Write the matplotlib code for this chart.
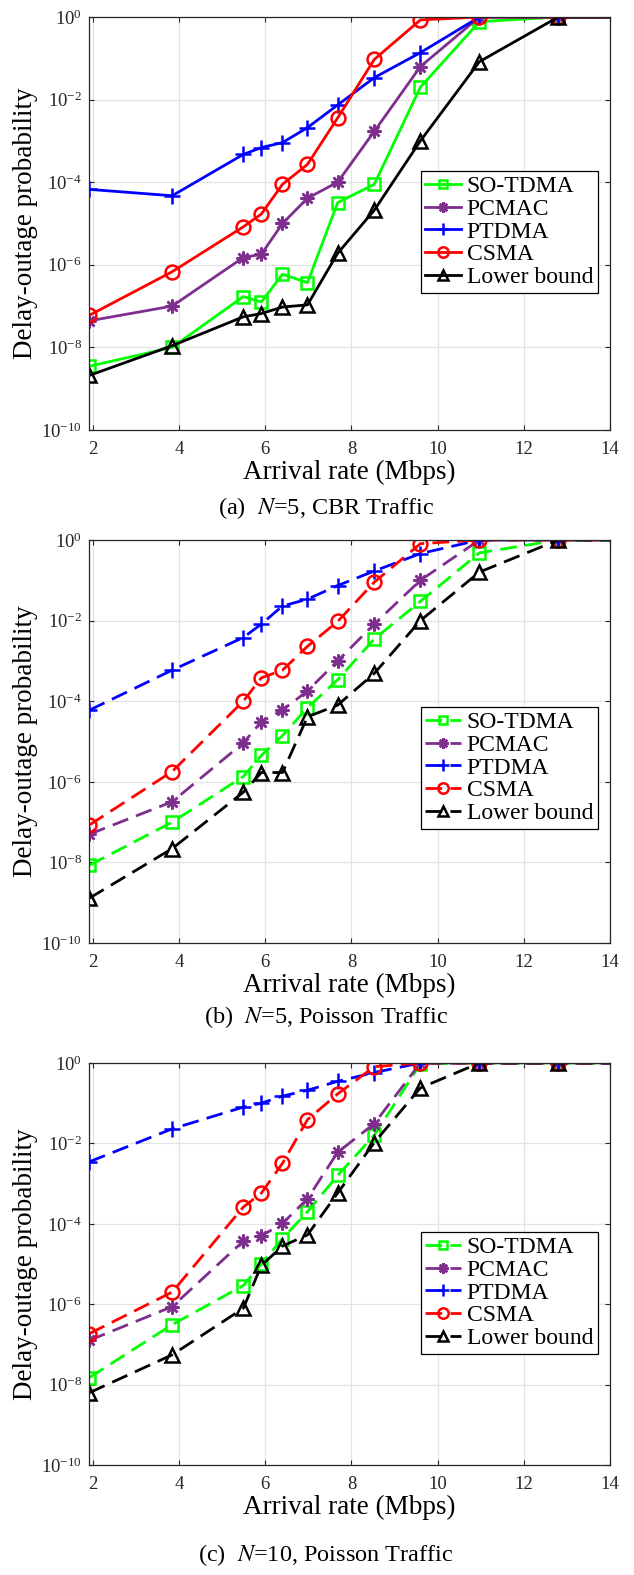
import matplotlib
matplotlib.use("Agg")
import matplotlib.pyplot as plt
import numpy as np

plt.rcParams['font.family'] = ['Liberation Serif', 'DejaVu Serif']
plt.rcParams['mathtext.fontset'] = 'stix'

# Arrival rates (Mbps); last point lies beyond the axis limit (flat at 1)
rates = [1.92, 3.84, 5.49, 5.91, 6.4, 6.98, 7.68, 8.53, 9.6, 10.97, 12.8, 15.36]

series_names = ["SO-TDMA", "PCMAC", "PTDMA", "CSMA", "Lower bound"]

# (a) N=5, CBR traffic
a_sotdma = [3.5e-9, 1.0e-8, 1.7e-7, 1.26e-7, 5.9e-7, 3.7e-7, 3.2e-5, 8.9e-5, 0.02, 0.77, 1.0, 1.0]
a_pcmac  = [4.4e-8, 1.0e-7, 1.5e-6, 1.8e-6, 1.0e-5, 4.1e-5, 1.0e-4, 1.7e-3, 0.063, 1.0, 1.0, 1.0]
a_ptdma  = [6.7e-5, 4.7e-5, 4.7e-4, 6.9e-4, 9.1e-4, 2.1e-3, 7.4e-3, 0.034, 0.137, 1.0, 1.0, 1.0]
a_csma   = [6.0e-8, 6.8e-7, 8.3e-6, 1.7e-5, 8.9e-5, 2.7e-4, 3.6e-3, 0.094, 0.85, 1.0, 1.0, 1.0]
a_lower  = [2.1e-9, 1.1e-8, 5.5e-8, 6.6e-8, 9.5e-8, 1.07e-7, 1.9e-6, 2.1e-5, 1.0e-3, 0.083, 1.0, 1.0]

# (b) N=5, Poisson traffic
b_sotdma = [8.5e-9, 1.0e-7, 1.35e-6, 4.5e-6, 1.4e-5, 6.9e-5, 3.4e-4, 3.5e-3, 0.03, 0.48, 1.0, 1.0]
b_pcmac  = [5.0e-8, 3.2e-7, 9.2e-6, 3.1e-5, 6.0e-5, 1.8e-4, 1.0e-3, 8.2e-3, 0.1, 1.0, 1.0, 1.0]
b_ptdma  = [6.0e-5, 5.9e-4, 3.8e-3, 8.2e-3, 0.023, 0.034, 0.074, 0.17, 0.46, 1.0, 1.0, 1.0]
b_csma   = [8.5e-8, 1.8e-6, 1.0e-4, 3.8e-4, 5.9e-4, 2.3e-3, 9.5e-3, 0.09, 0.81, 1.0, 1.0, 1.0]
b_lower  = [1.3e-9, 2.2e-8, 5.5e-7, 1.7e-6, 1.7e-6, 4.1e-5, 8.0e-5, 4.9e-4, 0.01, 0.16, 1.0, 1.0]

# (c) N=10, Poisson traffic
c_sotdma = [1.5e-8, 3.1e-7, 2.9e-6, 1.0e-5, 4.3e-5, 2.0e-4, 1.6e-3, 0.016, 0.95, 1.0, 1.0, 1.0]
c_pcmac  = [1.26e-7, 8.7e-7, 3.7e-5, 5.0e-5, 1.02e-4, 4.2e-4, 6.0e-3, 0.031, 1.0, 1.0, 1.0, 1.0]
c_ptdma  = [3.5e-3, 0.023, 0.08, 0.10, 0.15, 0.21, 0.35, 0.58, 1.0, 1.0, 1.0, 1.0]
c_csma   = [1.86e-7, 2.0e-6, 2.6e-4, 5.8e-4, 3.2e-3, 0.039, 0.17, 0.81, 1.0, 1.0, 1.0, 1.0]
c_lower  = [6.3e-9, 5.5e-8, 7.9e-7, 9.2e-6, 2.8e-5, 5.3e-5, 5.8e-4, 0.0105, 0.24, 1.0, 1.0, 1.0]

captions = [r"(a)  $N$=5, CBR Traffic", r"(b)  $N$=5, Poisson Traffic", r"(c)  $N$=10, Poisson Traffic"]
xticks = [2, 4, 6, 8, 10, 12, 14]
ytick_exps = [-10, -8, -6, -4, -2, 0]

panels = [
    [a_sotdma, a_pcmac, a_ptdma, a_csma, a_lower],
    [b_sotdma, b_pcmac, b_ptdma, b_csma, b_lower],
    [c_sotdma, c_pcmac, c_ptdma, c_csma, c_lower],
]

colors = ["#00FF00", "#7E2F8E", "#0000FF", "#FF0000", "#000000"]
markers = ["s", (8, 2, 0), "+", "o", "^"]
msizes = [8, 10, 12, 10, 10]

W, H = 634, 1575
fig = plt.figure(figsize=(W / 100, H / 100), dpi=100)

# axes boxes in pixels: (left, top, right, bottom)
boxes = [(89, 17, 610, 430), (89, 540, 610, 943), (89, 1063, 610, 1465)]
legend_tops = [0.627, 0.586, 0.58]
caption_y = [508, 1017, 1555]
linestyles = ["-", (0, (6, 3)), (0, (6, 3))]

for i, (box, data) in enumerate(zip(boxes, panels)):
    l, t, r, b = box
    ax = fig.add_axes([l / W, 1 - b / H, (r - l) / W, (b - t) / H])
    for name, y, c, m, ms in zip(series_names, data, colors, markers, msizes):
        ax.plot(rates, y, color=c, linestyle=linestyles[i], linewidth=2.0,
                marker=m, markersize=ms, markerfacecolor='none',
                markeredgecolor=c, markeredgewidth=1.8, label=name)
    ax.set_yscale('log')
    ax.set_xlim(1.91, 14)
    ax.set_ylim(1e-10, 1)
    ax.set_xticks(xticks)
    ax.set_yticks([10.0 ** e for e in ytick_exps])
    ax.yaxis.set_minor_locator(matplotlib.ticker.NullLocator())
    ax.tick_params(which='both', direction='in', top=True, right=True,
                   labelsize=13.5, length=3.5, width=0.8, colors='#262626')
    ax.tick_params(axis='x', pad=8)
    ax.tick_params(axis='y', pad=5)
    ax.grid(True, color='#E3E3E3', linewidth=0.9)
    ax.set_axisbelow(True)
    for s in ax.spines.values():
        s.set_color('#262626')
        s.set_linewidth(0.9)
    ax.set_xlabel("Arrival rate (Mbps)", fontsize=19.5, labelpad=1)
    ax.set_ylabel("Delay-outage probability", fontsize=19.5, labelpad=2)
    leg = ax.legend(loc='upper right', bbox_to_anchor=(0.977, legend_tops[i]),
                    prop={'family': 'Liberation Serif', 'size': 17},
                    frameon=True, fancybox=False, framealpha=1, markerscale=0.75,
                    edgecolor='black', handlelength=1.5, handletextpad=0.25,
                    borderpad=0.2, labelspacing=0.05, borderaxespad=0)
    leg.get_frame().set_linewidth(0.9)
    fig.text(326 / W, 1 - caption_y[i] / H, captions[i], ha='center', va='center',
             fontsize=17.5)

fig.savefig("out.png", dpi=100)
